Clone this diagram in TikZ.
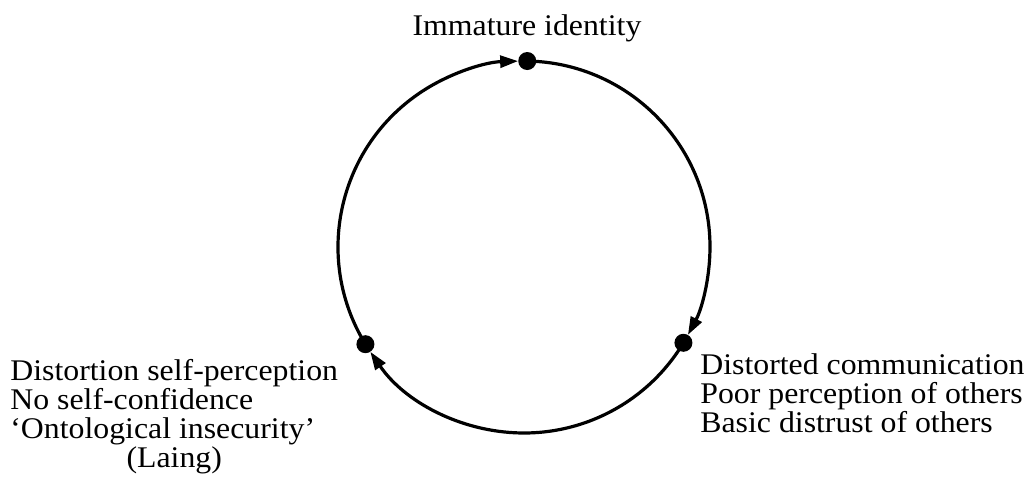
\documentclass[tikz,border=0pt]{standalone}
\usepackage{fontspec}
\setmainfont[FakeStretch=1.06]{Liberation Serif}
\usetikzlibrary{arrows.meta, calc}

\begin{document}
\begin{tikzpicture}[x=0.5pt, y=0.5pt,
  every node/.style={font=\fontsize{15}{13.5}\selectfont, inner sep=0pt},
  dot/.style={circle, fill=black, minimum size=9pt},
  flow/.style={line width=1.6pt, -{Triangle[length=9pt, width=6pt]}},
  caption/.style={anchor=base west}]
  \useasboundingbox (0,0) rectangle (1029,489);
  \coordinate (ctr) at (524,242);
  % the three stages on the ring
  \node[dot] (tdot) at ($(ctr)+(89:186)$) {};
  \node[dot] (rdot) at ($(ctr)+(-31:186)$) {};
  \node[dot] (ldot) at ($(ctr)+(211.5:186)$) {};
  % clockwise flow
  \draw[flow] (ldot.center) arc[start angle=211.5, end angle=91.8, radius=186];
  \draw[flow] (tdot.center) arc[start angle=89, end angle=-28.2, radius=186];
  \draw[flow] (rdot.center) arc[start angle=-31, end angle=-145.7, radius=186];
  % labels
  \node[anchor=base] (tlbl) at (527,454) {Immature identity};
  \node[caption] (rlbl) at (700,115)
    {\begin{tabular}[t]{@{}l@{}}Distorted communication\\
      Poor perception of others\\ Basic distrust of others\end{tabular}};
  \node[caption] (llbl) at (10,109)
    {\begin{tabular}[t]{@{}l@{}}Distortion self-perception\\
      No self-confidence\\ `Ontological insecurity'\\
      \multicolumn{1}{@{}c@{}}{(Laing)}\end{tabular}};
\end{tikzpicture}
\end{document}
